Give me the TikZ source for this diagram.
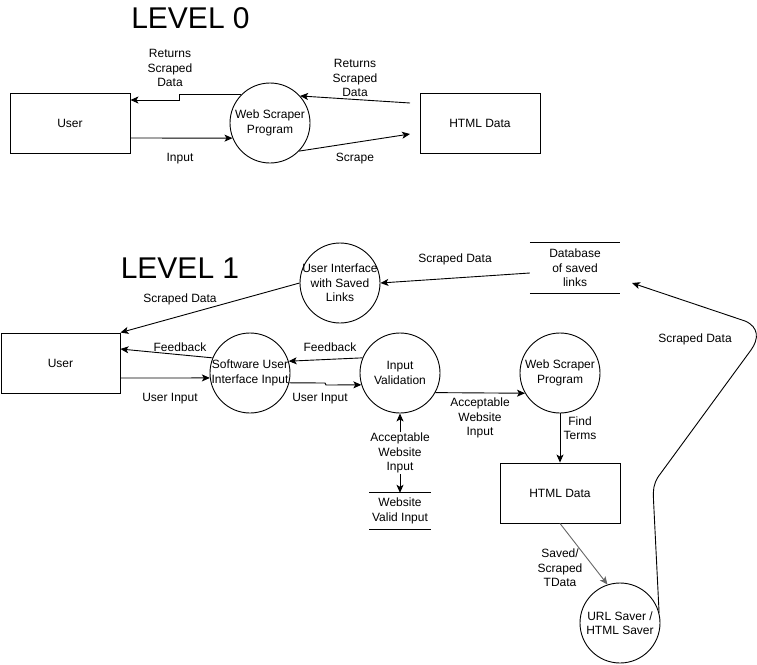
\documentclass[tikz,border=0pt]{standalone}
\usepackage{fontspec}
\setmainfont{Liberation Sans}
\usetikzlibrary{arrows.meta}
\begin{document}
\begin{tikzpicture}[x=1pt,y=-1pt,
  every node/.style={font=\fontsize{12}{14.5}\selectfont},
  entity/.style={draw, line width=0.9pt, minimum width=120pt, minimum height=60pt, inner sep=0pt},
  process/.style={draw, circle, line width=0.9pt, minimum size=80pt, inner sep=0pt},
  store/.style={minimum width=#1, minimum height=36pt, inner sep=0pt, align=center},
  lbl/.style={align=center, inner sep=1pt},
  title/.style={font=\fontsize{30}{34}\selectfont, inner sep=0pt},
  flow/.style={line width=0.9pt, -{Stealth[length=8pt,width=7pt,inset=2pt]}},
  both/.style={line width=0.9pt, {Stealth[length=8pt,width=7pt,inset=2pt]}-{Stealth[length=8pt,width=7pt,inset=2pt]}},
]
\useasboundingbox (0,0) rectangle (757,664);

% ---------- Level 0 ----------
\node[title] (t0) at (190.5,18) {LEVEL 0};
\node[entity] (user0) at (70,123) {User};
\node[process, label={[lbl]center:{Web Scraper\\Program}}] (ws0) at (270,123) {};
\node[entity] (html0) at (480,123) {HTML Data};
\coordinate (h0out) at (410,103);
\coordinate (h0in) at (410,134);

\draw[flow] (ws0.136) -- ++(-61,0) |- (user0.east |- 0,100);
\draw[flow] (user0.east |- 0,138) -- (ws0.202);
\draw[flow] (h0out) -- (ws0.42);
\draw[flow] (ws0.316) -- (h0in);

\node[lbl] (l0a) at (170,68) {Returns\\Scraped\\Data};
\node[lbl] (l0b) at (355,78) {Returns\\Scraped\\Data};
\node[lbl] (l0c) at (180,159) {Input};
\node[lbl] (l0d) at (355,159) {Scrape};

% ---------- Level 1 ----------
\node[title] (t1) at (180,268) {LEVEL 1};
\node[entity, minimum width=119pt] (user1) at (60.5,363) {User};
\node[process, label={[lbl]center:{User Interface\\with Saved\\Links}}] (ui) at (340,283) {};
\node[process, label={[lbl]center:{Software User\\Interface Input}}] (sw) at (250,373) {};
\node[process, label={[lbl]center:{Input\\Validation}}] (iv) at (400,373) {};
\node[process, label={[lbl]center:{Web Scraper\\Program}}] (wsp) at (560,373) {};
\node[entity] (html1) at (560,493) {HTML Data};
\node[process, label={[lbl]center:{URL Saver /\\HTML Saver}}] (url) at (620,623) {};

% data stores: text between two horizontal rules
\node[store=90pt, minimum height=50pt] (db) at (575,268) {Database\\of saved\\links};
\draw[line width=0.9pt] (db.north west) -- (db.north east);
\draw[line width=0.9pt] (db.south west) -- (db.south east);
\node[store=61pt] (wvi) at (400,511) {Website\\Valid Input};
\draw[line width=0.9pt] (wvi.north west) -- (wvi.north east);
\draw[line width=0.9pt] (wvi.south west) -- (wvi.south east);

\coordinate (dbin) at (632,283);

% flows
\draw[flow] ([yshift=-5pt]db.west) -- (ui.east);
\draw[flow] (ui.west) -- (user1.north east);
\draw[flow] (sw.158.5) -- ([yshift=14pt]user1.east);
\draw[flow] (iv.158) -- (sw.17);
\draw[flow] ([yshift=-15pt]user1.east) -- (sw.187);
\draw[flow] (sw.-14.5) -- (325,383) -- (326,385) -- (iv.197.5);
\draw[flow] (iv.-29) -- (wsp.210);
\draw[flow] (wsp.south) -- (html1.north);
\draw[both] (iv.south) -- node[lbl, fill=white] (lav) {Acceptable\\Website\\Input} (wvi.north);
\draw[flow, draw=black!60] (html1.south) -- (url.108);
\draw[flow] (url.15) -- (653.5,500)
  .. controls (653,488) and (654,484) .. (658,477)
  -- (751,350)
  .. controls (759,339) and (759,327) .. (745,321)
  -- (dbin);

% flow labels
\node[lbl] (l1a) at (455,259) {Scraped Data};
\node[lbl] (l1b) at (180,299) {Scraped Data};
\node[lbl] (l1c) at (180,347) {Feedback};
\node[lbl] (l1d) at (330,347) {Feedback};
\node[lbl] (l1e) at (170,399) {User Input};
\node[lbl] (l1f) at (320,399) {User Input};
\node[lbl] (l1g) at (480,418) {Acceptable\\Website\\Input};
\node[lbl] (l1h) at (580,428) {Find\\Terms};
\node[lbl] (l1i) at (560,568) {Saved/\\Scraped\\TData};
\node[lbl] (l1j) at (695,339) {Scraped Data};
\end{tikzpicture}
\end{document}
